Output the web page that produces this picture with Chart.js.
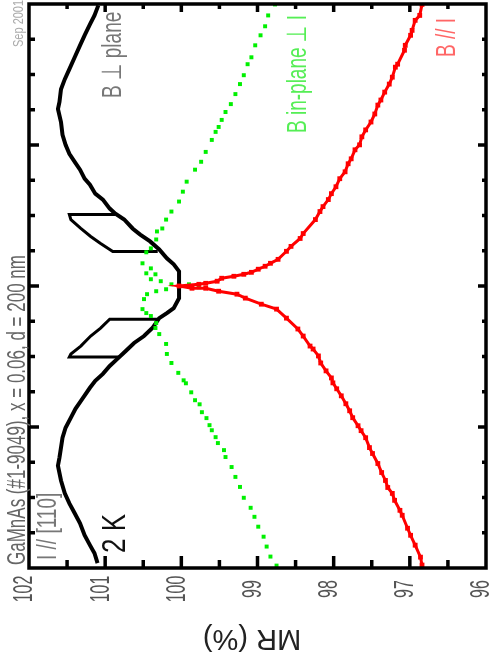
<!DOCTYPE html>
<html>
<head>
<meta charset="utf-8">
<script src="https://cdn.jsdelivr.net/npm/chart.js@4/dist/chart.umd.min.js"></script>
<style>
  body { margin: 0; background: #fff; }
  canvas { display: block; }
</style>
</head>
<body>
<canvas id="c" width="490" height="667" style="width:490px;height:667px"></canvas>
<script>
// field B (y) and MR in % (x)
const perpB = [1.99, 1.919, 1.856, 1.778, 1.707, 1.622, 1.538, 1.467, 1.396, 1.305, 1.255, 1.163, 1.072, 1.001,
  0.937, 0.881, 0.825, 0.761, 0.719, 0.655, 0.613, 0.549, 0.514, 0.472, 0.408, 0.365, 0.316, 0.259, 0.196,
  0.154, 0.104, 0.012, -0.086, -0.157, -0.192, -0.228, -0.298, -0.355, -0.404, -0.461, -0.517, -0.567,
  -0.623, -0.673, -0.722, -0.80, -0.871, -0.934, -1.005, -1.076, -1.217, -1.274, -1.379, -1.471, -1.542,
  -1.612, -1.683, -1.768, -1.838, -1.895, -1.966]
const perpMR = [101.09, 101.14, 101.20, 101.27, 101.33, 101.40, 101.47, 101.53, 101.58, 101.60, 101.62, 101.58,
  101.56, 101.52, 101.47, 101.40, 101.33, 101.27, 101.20, 101.13, 101.03, 100.94, 100.87, 100.75, 100.64,
  100.54, 100.41, 100.29, 100.19, 100.10, 100.03, 100.03, 100.03, 100.10, 100.19, 100.29, 100.38, 100.49,
  100.62, 100.73, 100.84, 100.94, 101.03, 101.13, 101.20, 101.30, 101.39, 101.45, 101.52, 101.56, 101.60,
  101.62, 101.58, 101.53, 101.47, 101.40, 101.33, 101.27, 101.20, 101.14, 101.10]

// switching loops of the perpendicular sweep
const loopUpB = [0.507, 0.507, 0.471, 0.408, 0.351, 0.302, 0.245, 0.245]
const loopUpMR = [100.87, 101.47, 101.45, 101.32, 101.19, 101.06, 100.90, 100.31]
const loopDownB = [-0.235, -0.235, -0.299, -0.355, -0.426, -0.482, -0.503, -0.503]
const loopDownMR = [100.30, 100.94, 101.06, 101.19, 101.32, 101.45, 101.47, 100.81]

const inplaneB = [1.997, 1.919, 1.842, 1.778, 1.707, 1.622, 1.573, 1.495, 1.432, 1.361, 1.290, 1.234, 1.178,
  1.128, 1.093, 1.036, 0.951, 0.881, 0.825, 0.740, 0.669, 0.599, 0.528, 0.471, 0.408, 0.387, 0.330, 0.267,
  0.239, 0.161, 0.125, 0.090, 0.083, 0.048, 0.034, 0.012, 0, 0.012, -0.009,
  -0.023, -0.037, -0.058, -0.093, -0.164, -0.192, -0.213, -0.263, -0.298, -0.341, -0.411, -0.482, -0.546,
  -0.616, -0.669, -0.690, -0.754, -0.810, -0.839, -0.895, -0.937, -0.987, -1.023, -1.072, -1.114, -1.164,
  -1.213, -1.284, -1.354, -1.425, -1.502, -1.573, -1.637, -1.707, -1.778, -1.848, -1.919, -1.983]
const inplaneMR = [98.77, 98.86, 98.90, 98.96, 99.03, 99.08, 99.13, 99.18, 99.23, 99.29, 99.35, 99.42, 99.47,
  99.51, 99.55, 99.60, 99.68, 99.74, 99.82, 99.93, 99.98, 100.03, 100.13, 100.20, 100.25, 100.32, 100.33, 100.40,
  100.46, 100.51, 100.40, 100.46, 100.34, 100.40, 100.27, 100.13, 100.03, 99.90, 99.77,
  100.20, 100.33, 100.45, 100.49, 100.51, 100.46, 100.40, 100.33, 100.34, 100.29, 100.20, 100.19, 100.13,
  100.04, 99.97, 99.94, 99.87, 99.82, 99.76, 99.73, 99.67, 99.63, 99.60, 99.55, 99.52, 99.44,
  99.42, 99.34, 99.29, 99.23, 99.18, 99.09, 99.04, 98.99, 98.92, 98.88, 98.83, 98.75]

const parB = [1.997, 1.919, 1.884, 1.813, 1.778, 1.707, 1.672, 1.573, 1.552, 1.481, 1.432, 1.375, 1.319, 1.283,
  1.220, 1.163, 1.107, 1.058, 1.001, 0.966, 0.902, 0.867, 0.810, 0.761, 0.704, 0.655, 0.613, 0.563, 0.528,
  0.471, 0.372, 0.337, 0.281, 0.246, 0.189, 0.161, 0.140, 0.119, 0.097, 0.083, 0.069, 0.055, 0.034, 0.019,
  0.012, 0, -0.016, -0.016, -0.037, -0.058, -0.086, -0.129, -0.164, -0.228, -0.305, -0.355, -0.426, -0.447,
  -0.496, -0.546, -0.602, -0.652, -0.687, -0.729, -0.779, -0.835, -0.885, -0.934, -0.991, -1.026, -1.076,
  -1.146, -1.188, -1.259, -1.323, -1.379, -1.429, -1.471, -1.520, -1.591, -1.626, -1.718, -1.768, -1.838,
  -1.923, -1.979]
const parMR = [96.84, 96.87, 96.93, 96.97, 96.99, 97.06, 97.07, 97.16, 97.19, 97.23, 97.27, 97.33, 97.38, 97.42,
  97.46, 97.51, 97.58, 97.63, 97.66, 97.72, 97.77, 97.81, 97.85, 97.92, 97.97, 98.03, 98.07, 98.14, 98.18,
  98.24, 98.40, 98.44, 98.56, 98.62, 98.73, 98.83, 98.90, 98.99, 99.08, 99.18, 99.31, 99.47, 99.53, 99.68,
  99.77, 100.03, 99.86, 99.68, 99.51, 99.27, 99.16, 98.95, 98.75, 98.62, 98.47, 98.40, 98.31, 98.27,
  98.20, 98.17, 98.10, 98.03, 98.01, 97.96, 97.90, 97.84, 97.79, 97.75, 97.68, 97.64, 97.58,
  97.53, 97.49, 97.42, 97.37, 97.32, 97.29, 97.23, 97.20, 97.13, 97.10, 97.03, 96.99, 96.93,
  96.86, 96.84]

const mrTicks = [102, 101, 100, 99, 98, 97, 96]

const pts = (bs, ms) => bs.map((b, i) => ({x: ms[i], y: b}))
const FONT = '"Liberation Sans", "DejaVu Sans", sans-serif'

// text turned 90 deg, reading bottom to top, glyphs stretched by k
function vtext(ctx, str, x, y, size, k, color, align) {
  ctx.save()
  ctx.translate(x, y)
  ctx.rotate(-Math.PI / 2)
  ctx.scale(1, k)
  ctx.font = size + 'px ' + FONT
  ctx.fillStyle = color
  ctx.textAlign = align || 'left'
  ctx.textBaseline = align === 'center' ? 'middle' : 'alphabetic'
  ctx.fillText(str, 0, 0)
  ctx.restore()
}

const frame = {
  id: 'frame',
  beforeDraw(chart) {
    const ctx = chart.ctx
    ctx.save()
    ctx.fillStyle = '#fff'
    ctx.fillRect(0, 0, chart.width, chart.height)
    ctx.restore()
  },
  afterDraw(chart) {
    const ctx = chart.ctx
    const a = chart.chartArea
    const xs = chart.scales.x, ys = chart.scales.y
    ctx.save()
    ctx.strokeStyle = '#000'
    ctx.lineWidth = 3.5
    ctx.strokeRect(a.left, a.top, a.right - a.left, a.bottom - a.top)
    ctx.beginPath()
    for (let v = 96.5; v < 102; v += 0.5) {
      const px = xs.getPixelForValue(v)
      const major = Number.isInteger(v)
      ctx.moveTo(px, a.bottom); ctx.lineTo(px, a.bottom - (major ? 12 : 8))
      ctx.moveTo(px, a.top); ctx.lineTo(px, a.top + (major ? 8 : 5))
    }
    for (let b = -1.75; b < 2; b += 0.25) {
      const py = ys.getPixelForValue(b)
      const major = Number.isInteger(b)
      ctx.moveTo(a.left, py); ctx.lineTo(a.left + (major ? 10 : 6), py)
      ctx.moveTo(a.right, py); ctx.lineTo(a.right - (major ? 8 : 4), py)
    }
    ctx.stroke()
    ctx.restore()

    for (const v of mrTicks) {
      vtext(ctx, String(v), xs.getPixelForValue(v) - 4, 589, 16, 1.7, '#555', 'center')
    }

    // axis title, upside down
    ctx.save()
    ctx.translate(252, 630)
    ctx.rotate(Math.PI)
    ctx.font = '29px ' + FONT
    ctx.fillStyle = '#222'
    ctx.textAlign = 'center'
    ctx.textBaseline = 'alphabetic'
    ctx.fillText('MR (%)', 0, 0)
    ctx.restore()

    vtext(ctx, 'GaMnAs (#1-9049), x = 0.06, d = 200 nm', 25, 565, 17, 1.5, '#666')
    vtext(ctx, 'Sep 2001', 23, 47, 11, 1.4, '#aaa')
    vtext(ctx, 'I // [110]', 56, 560, 19, 1.45, '#777')
    vtext(ctx, '2 K', 125, 553, 26, 1.25, '#111')
    vtext(ctx, 'B \u22A5 plane', 121, 98, 19, 1.45, '#777')
    vtext(ctx, 'B in-plane \u22A5 I', 306, 133, 19, 1.45, '#5e5')
    vtext(ctx, 'B // I', 455, 57, 19, 1.45, '#f66')
  }
}

const black = {borderColor: '#000', borderWidth: 3.5, showLine: true, pointRadius: 0, tension: 0}

new Chart(document.getElementById('c'), {
  type: 'scatter',
  data: {
    datasets: [
      {label: 'B // I', data: pts(parB, parMR), backgroundColor: '#ff0000', borderColor: '#ff0000',
        borderWidth: 3, showLine: true, tension: 0, pointStyle: 'rect', pointRadius: 3.4, pointBorderWidth: 0},
      {label: 'B in-plane', data: pts(inplaneB, inplaneMR), backgroundColor: '#00f000', pointStyle: 'rect',
        pointRadius: 2.8, pointBorderWidth: 0, showLine: false},
      Object.assign({label: 'loop up', data: pts(loopUpB, loopUpMR)}, black, {borderWidth: 3}),
      Object.assign({label: 'loop down', data: pts(loopDownB, loopDownMR)}, black, {borderWidth: 3}),
      Object.assign({label: 'B perp', data: pts(perpB, perpMR)}, black, {borderWidth: 4})
    ]
  },
  options: {
    responsive: false,
    devicePixelRatio: 1,
    animation: false,
    layout: {padding: {left: 29, top: 2, right: 2, bottom: 99}},
    plugins: {legend: {display: false}, tooltip: {enabled: false}},
    scales: {
      x: {type: 'linear', min: 96, max: 102, reverse: true, display: false},
      y: {type: 'linear', min: -2, max: 2, display: false}
    }
  },
  plugins: [frame]
})
</script>
</body>
</html>
